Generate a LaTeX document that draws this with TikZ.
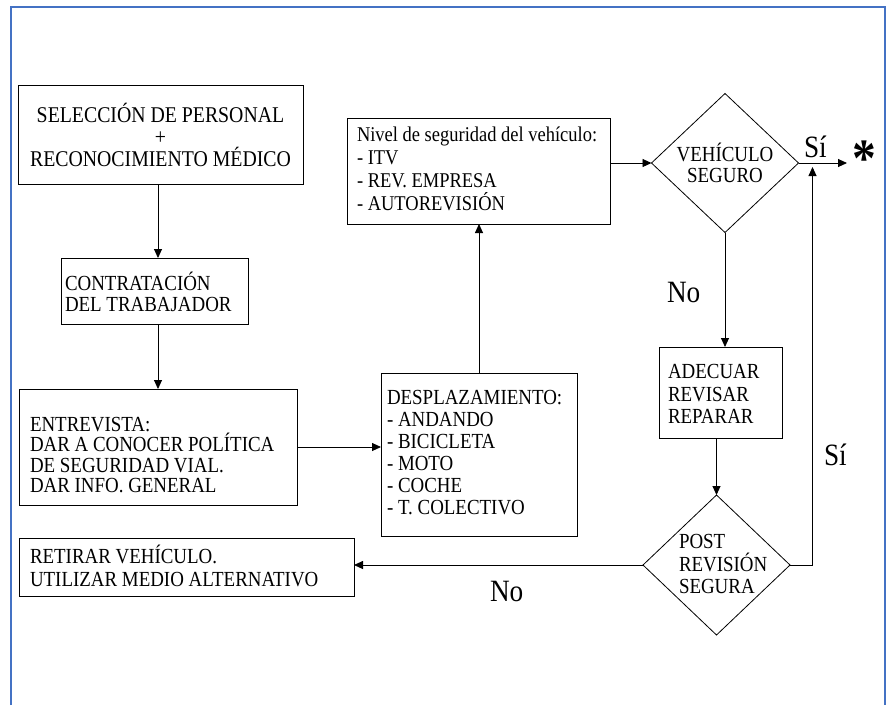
\documentclass[tikz,border=0pt]{standalone}
\usepackage{fontspec}
\setmainfont[FakeStretch=0.88]{Liberation Serif}
\usetikzlibrary{arrows.meta,shapes.geometric}
\definecolor{framecol}{RGB}{68,114,196}
\begin{document}
\begin{tikzpicture}[x=1pt,y=-1pt,
  box/.style={draw, line width=0.9pt, rectangle, inner sep=0pt, outer sep=0pt, anchor=north west},
  dia/.style={draw, line width=0.8pt, diamond, inner sep=0pt, outer sep=0pt},
  txt/.style={inner sep=0pt, outer sep=0pt, align=left, anchor=west},
  lbl/.style={inner sep=0pt, outer sep=0pt, font=\fontsize{31}{33}\selectfont, anchor=base west},
  arr/.style={line width=0.9pt, -{Triangle[length=9pt,width=8pt]}}
]
\useasboundingbox (0,0) rectangle (891,705);
% frame
\draw[framecol, line width=2pt] (11,705) -- (11,7) -- (885,7) -- (885,705);

% boxes
\node[box, minimum width=285pt, minimum height=99pt] (b1) at (18,85) {};
\node[box, minimum width=187pt, minimum height=66pt] (b2) at (61,258) {};
\node[box, minimum width=278pt, minimum height=116pt] (b3) at (19,389) {};
\node[box, minimum width=196pt, minimum height=163pt] (b4) at (381,373) {};
\node[box, minimum width=335pt, minimum height=58pt] (b5) at (19,538) {};
\node[box, minimum width=263pt, minimum height=106pt] (b6) at (347,118) {};
\node[box, minimum width=123pt, minimum height=91pt] (b7) at (659,347) {};
\node[dia, minimum width=147pt, minimum height=139pt] (d1) at (725,163) {};
\node[dia, minimum width=147pt, minimum height=140pt] (d2) at (716.5,565) {};

% texts
\node[inner sep=0pt, align=center, font=\fontsize{22.5}{22}\selectfont] (b1t) at (160.5,135)
  {SELECCIÓN DE PERSONAL\\+\\RECONOCIMIENTO MÉDICO};
\node[txt, font=\fontsize{21.5}{21}\selectfont] (b2t) at (65,292)
  {CONTRATACIÓN\\DEL TRABAJADOR};
\node[txt, font=\fontsize{21.5}{20.5}\selectfont] (b3t) at (30,455)
  {ENTREVISTA:\\DAR A CONOCER POLÍTICA\\DE SEGURIDAD VIAL.\\DAR INFO. GENERAL};
\node[txt, font=\fontsize{21.5}{22}\selectfont] (b4t) at (387,453)
  {DESPLAZAMIENTO:\\- ANDANDO\\- BICICLETA\\- MOTO\\- COCHE\\- T. COLECTIVO};
\node[txt, font=\fontsize{21.5}{23.5}\selectfont] (b5t) at (30,566)
  {RETIRAR VEHÍCULO.\\UTILIZAR MEDIO ALTERNATIVO};
\node[txt, font=\fontsize{21}{23}\selectfont] (b6t) at (357,169)
  {Nivel de seguridad del vehículo:\\- ITV\\- REV. EMPRESA\\- AUTOREVISIÓN};
\node[txt, font=\fontsize{21.5}{22.5}\selectfont] (b7t) at (668,394)
  {ADECUAR\\REVISAR\\REPARAR};
\node[inner sep=0pt, align=center, font=\fontsize{21.5}{21.5}\selectfont] (d1t) at (725,163)
  {VEHÍCULO\\SEGURO};
\node[txt, font=\fontsize{21.5}{22.5}\selectfont] (d2t) at (679,564)
  {POST\\REVISIÓN\\SEGURA};

% labels
\node[lbl] (si1) at (804,157) {Sí};
\node[lbl] (no1) at (667,302) {No};
\node[lbl] (si2) at (824,465) {Sí};
\node[lbl] (no2) at (490,601) {No};
\node[inner sep=0pt, anchor=base, font=\bfseries\fontsize{54}{54}\selectfont] (star) at (864,176) {*};

\coordinate (s) at (847,163);
\coordinate (c) at (812.5,167);

% connectors
\draw[arr] ([xshift=-2.5pt]b1.south) -- ([xshift=-2.5pt]b1.south |- b2.north);
\draw[arr] ([xshift=-2.5pt]b1.south |- b2.south) -- ([xshift=-2.5pt]b1.south |- b3.north);
\draw[arr] (b3.east) -- (b3.east -| b4.west);
\draw[arr] (b4.north) -- (b4.north |- b6.south);
\draw[arr] (d1.west -| b6.east) -- (d1.west);
\draw[arr] (d1.east) -- (s);
\draw[arr] (d1.south) -- (d1.south |- b7.north);
\draw[arr] (d2.north |- b7.south) -- (d2.north);
\draw[arr] (d2.east) -| (c);
\draw[arr] (d2.west) -- (d2.west -| b5.east);
\end{tikzpicture}
\end{document}
